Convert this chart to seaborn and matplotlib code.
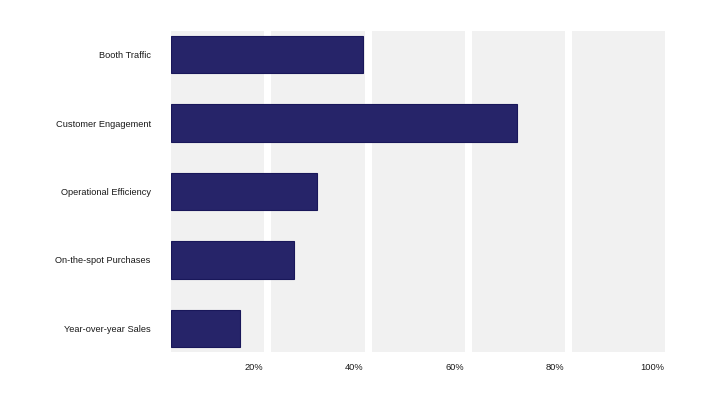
import matplotlib
matplotlib.use("Agg")
import matplotlib.pyplot as plt
import matplotlib.transforms as mtransforms
import seaborn as sns
import pandas as pd
import numpy as np

categories = ["Booth Traffic", "Customer Engagement", "Operational Efficiency",
              "On-the-spot Purchases", "Year-over-year Sales"]
values = [0.383, 0.691, 0.291, 0.246, 0.138]
tick_values = [0.2, 0.4, 0.6, 0.8, 1.0]
tick_labels = ["20%", "40%", "60%", "80%", "100%"]

df = pd.DataFrame({"category": categories, "value": values})

sns.set_theme(style="white")
plt.rcParams["font.family"] = ["Liberation Sans", "DejaVu Sans"]

fig = plt.figure(figsize=(7.2, 4.05), dpi=100)
W, H = 720, 405
left, right, top, bottom = 171, 672.25, 31, 352
ax = fig.add_axes([left / W, 1 - bottom / H, (right - left) / W, (bottom - top) / H])

# background bands
gap = 7 / (right - left)
starts = [0.0] + tick_values[:-1]
for s, e in zip(starts, tick_values):
    ax.axvspan(s, e - gap, color="#f1f1f1", zorder=0, lw=0)

sns.barplot(data=df, y="category", x="value", orient="h", width=0.546,
            color="#262469", saturation=1, edgecolor="#19175a", linewidth=0.8,
            ax=ax, zorder=2)

ax.set_xlim(0, 1)
ax.set_ylim(4.347, -0.347)
ax.set_xlabel("")
ax.set_ylabel("")
for sp in ax.spines.values():
    sp.set_visible(False)
ax.grid(False)

ax.set_xticks(tick_values)
ax.set_xticklabels(tick_labels, fontsize=6.7, color="#1a1a1a")
ax.tick_params(axis="x", length=0, pad=8)
offset = mtransforms.ScaledTranslation(-8 / 100, 0, fig.dpi_scale_trans)
for lbl in ax.get_xticklabels():
    lbl.set_horizontalalignment("right")
    lbl.set_transform(lbl.get_transform() + offset)

ax.tick_params(axis="y", length=0, pad=14.5)
for lbl in ax.get_yticklabels():
    lbl.set_fontsize(6.7)
    lbl.set_color("#1a1a1a")

fig.savefig("out.png", dpi=100, facecolor="white")
